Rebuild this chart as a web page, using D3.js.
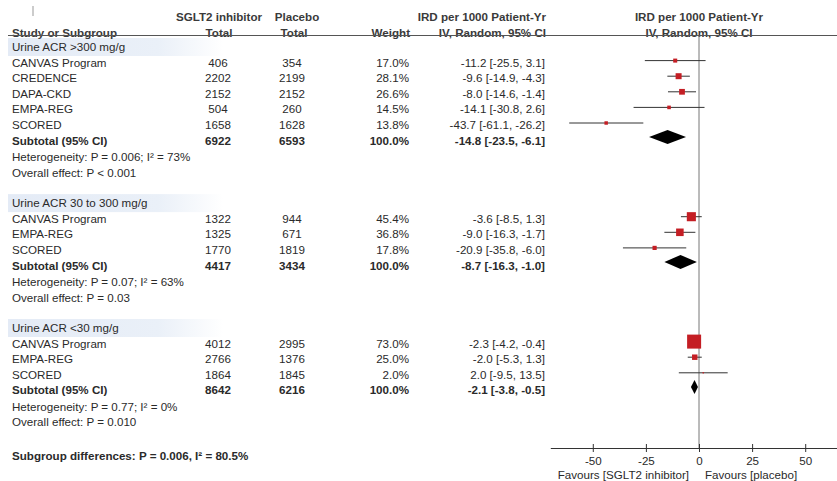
<!DOCTYPE html>
<html>
<head>
<meta charset="utf-8">
<script src="https://cdn.jsdelivr.net/npm/d3@7"></script>
<style>
  body { margin: 0; background: #fff; }
  svg { font-family: "Liberation Sans", Arial, sans-serif; }
</style>
</head>
<body>
<svg id="chart" width="837" height="481"></svg>
<script>
// data
var groups = ['Urine ACR >300 mg/g', 'Urine ACR 30 to 300 mg/g', 'Urine ACR <30 mg/g'];
var studyGroup = [0, 0, 0, 0, 0, 1, 1, 1, 2, 2, 2];
var studyNames = ['CANVAS Program', 'CREDENCE', 'DAPA-CKD', 'EMPA-REG', 'SCORED',
                  'CANVAS Program', 'EMPA-REG', 'SCORED',
                  'CANVAS Program', 'EMPA-REG', 'SCORED'];
var sgltTotal = [406, 2202, 2152, 504, 1658, 1322, 1325, 1770, 4012, 2766, 1864];
var placeboTotal = [354, 2199, 2152, 260, 1628, 944, 671, 1819, 2995, 1376, 1845];
var weights = [17.0, 28.1, 26.6, 14.5, 13.8, 45.4, 36.8, 17.8, 73.0, 25.0, 2.0];
var ird = [-11.2, -9.6, -8.0, -14.1, -43.7, -3.6, -9.0, -20.9, -2.3, -2.0, 2.0];
var lower = [-25.5, -14.9, -14.6, -30.8, -61.1, -8.5, -16.3, -35.8, -4.2, -5.3, -9.5];
var upper = [3.1, -4.3, -1.4, 2.6, -26.2, 1.3, -1.7, -6.0, -0.4, 1.3, 13.5];

var subSglt = [6922, 4417, 8642];
var subPlacebo = [6593, 3434, 6216];
var subIrd = [-14.8, -8.7, -2.1];
var subLower = [-23.5, -16.3, -3.8];
var subUpper = [-6.1, -1.0, -0.5];
var heterogeneity = ['Heterogeneity: P = 0.006; I² = 73%', 'Heterogeneity: P = 0.07; I² = 63%', 'Heterogeneity: P = 0.77; I² = 0%'];
var overallEffect = ['Overall effect: P < 0.001', 'Overall effect: P = 0.03', 'Overall effect: P = 0.010'];
var subgroupDiff = 'Subgroup differences: P = 0.006, I² = 80.5%';
var axisTicks = [-50, -25, 0, 25, 50];

var svg = d3.select('#chart');
var txt = '#2a2a2a';
var fs = 11.6;

var x = d3.scaleLinear().domain([-70, 70]).range([550.3, 847.7]);
var box = d3.scaleLinear().domain([0, 73]).range([1, 14]);
var f1 = function(v){ return v.toFixed(1); };
var ci = function(m, l, u){ return f1(m) + ' [' + f1(l) + ', ' + f1(u) + ']'; };

// row layout
var rowStep = 15.6;
var rows = [];
var y = 47;
var lastY = 0;
groups.forEach(function(g, gi){
    rows.push({type: 'group', y: y, g: gi});
    var k = 0;
    studyGroup.forEach(function(sg, i){
        if (sg == gi){
            k += 1;
            rows.push({type: 'study', y: y + rowStep * k, i: i});
        }
    });
    var ys = y + rowStep * (k + 1);
    rows.push({type: 'sub', y: ys, g: gi});
    rows.push({type: 'het', y: ys + 16.5, g: gi});
    rows.push({type: 'overall', y: ys + 32, g: gi});
    lastY = ys + 32;
    y = ys + 62.5;
});
var diffY = lastY + 34;

// band behind subgroup headings
var defs = svg.append('defs');
var grad = defs.append('linearGradient').attr('id', 'band');
grad.append('stop').attr('offset', '0%').attr('stop-color', '#e4ebf6');
grad.append('stop').attr('offset', '70%').attr('stop-color', '#eaf0f8');
grad.append('stop').attr('offset', '100%').attr('stop-color', '#ffffff');

svg.selectAll('.band')
    .data(rows.filter(function(r){ return r.type == 'group'; }))
    .enter().append('rect')
    .attr('class', 'band')
    .attr('x', 8).attr('width', 215)
    .attr('y', function(d){ return d.y - 9; })
    .attr('height', 18)
    .attr('fill', 'url(#band)');

// header
var head = svg.append('g').attr('font-size', fs).attr('font-weight', 'bold').attr('fill', '#3a3a3a');
head.append('text').attr('x', 219).attr('y', 21).attr('text-anchor', 'middle').text('SGLT2 inhibitor');
head.append('text').attr('x', 297).attr('y', 21).attr('text-anchor', 'middle').text('Placebo');
head.append('text').attr('x', 12).attr('y', 37).text('Study or Subgroup');
head.append('text').attr('x', 219).attr('y', 37).attr('text-anchor', 'middle').text('Total');
head.append('text').attr('x', 294).attr('y', 37).attr('text-anchor', 'middle').text('Total');
head.append('text').attr('x', 410).attr('y', 37).attr('text-anchor', 'end').text('Weight');
head.append('text').attr('x', 546).attr('y', 21).attr('text-anchor', 'end').text('IRD per 1000 Patient-Yr');
head.append('text').attr('x', 546).attr('y', 37).attr('text-anchor', 'end').text('IV, Random, 95% CI');
head.append('text').attr('x', x(0)).attr('y', 21).attr('text-anchor', 'middle').text('IRD per 1000 Patient-Yr');
head.append('text').attr('x', x(0)).attr('y', 37).attr('text-anchor', 'middle').text('IV, Random, 95% CI');

svg.append('line').attr('x1', 33).attr('x2', 33).attr('y1', 6).attr('y2', 16)
    .attr('stroke', '#999').attr('stroke-width', 1);
svg.append('line').attr('x1', 8).attr('x2', 837).attr('y1', 35.5).attr('y2', 35.5)
    .attr('stroke', '#555').attr('stroke-width', 1.2);

// zero line
svg.append('line').attr('x1', x(0)).attr('x2', x(0)).attr('y1', 36).attr('y2', 448)
    .attr('stroke', '#777').attr('stroke-width', 1);

// table text
var tbl = svg.append('g').attr('font-size', fs).attr('fill', txt);
rows.forEach(function(r){
    var ty = r.y + 4;
    if (r.type == 'group'){
        tbl.append('text').attr('x', 12).attr('y', ty).text(groups[r.g]);
    } else if (r.type == 'study'){
        var i = r.i;
        tbl.append('text').attr('x', 12).attr('y', ty).text(studyNames[i]);
        tbl.append('text').attr('x', 218).attr('y', ty).attr('text-anchor', 'middle').text(sgltTotal[i]);
        tbl.append('text').attr('x', 292).attr('y', ty).attr('text-anchor', 'middle').text(placeboTotal[i]);
        tbl.append('text').attr('x', 409).attr('y', ty).attr('text-anchor', 'end').text(f1(weights[i]) + '%');
        tbl.append('text').attr('x', 545).attr('y', ty).attr('text-anchor', 'end').text(ci(ird[i], lower[i], upper[i]));
    } else if (r.type == 'sub'){
        var g = r.g;
        var b = tbl.append('g').attr('font-weight', 'bold');
        b.append('text').attr('x', 12).attr('y', ty).text('Subtotal (95% CI)');
        b.append('text').attr('x', 218).attr('y', ty).attr('text-anchor', 'middle').text(subSglt[g]);
        b.append('text').attr('x', 292).attr('y', ty).attr('text-anchor', 'middle').text(subPlacebo[g]);
        b.append('text').attr('x', 409).attr('y', ty).attr('text-anchor', 'end').text('100.0%');
        b.append('text').attr('x', 545).attr('y', ty).attr('text-anchor', 'end').text(ci(subIrd[g], subLower[g], subUpper[g]));
    } else if (r.type == 'het'){
        tbl.append('text').attr('x', 12).attr('y', ty).text(heterogeneity[r.g]);
    } else {
        tbl.append('text').attr('x', 12).attr('y', ty).text(overallEffect[r.g]);
    }
});
tbl.append('text').attr('x', 12).attr('y', diffY + 4).attr('font-weight', 'bold').text(subgroupDiff);

// forest marks
var plot = svg.append('g');
var studyRows = rows.filter(function(r){ return r.type == 'study'; });
plot.selectAll('.ci')
    .data(studyRows)
    .enter().append('line')
    .attr('class', 'ci')
    .attr('x1', function(d){ return x(lower[d.i]); })
    .attr('x2', function(d){ return x(upper[d.i]); })
    .attr('y1', function(d){ return d.y - 2; })
    .attr('y2', function(d){ return d.y - 2; })
    .attr('stroke', '#333').attr('stroke-width', 1);
plot.selectAll('.box')
    .data(studyRows)
    .enter().append('rect')
    .attr('class', 'box')
    .attr('x', function(d){ return x(ird[d.i]) - box(weights[d.i]) / 2; })
    .attr('y', function(d){ return d.y - 2 - box(weights[d.i]) / 2; })
    .attr('width', function(d){ return box(weights[d.i]); })
    .attr('height', function(d){ return box(weights[d.i]); })
    .attr('fill', '#c41e24');

var subRows = rows.filter(function(r){ return r.type == 'sub'; });
plot.selectAll('.diamond')
    .data(subRows)
    .enter().append('path')
    .attr('class', 'diamond')
    .attr('d', function(d){
        var cy = d.y - 3.5, g = d.g, h = 7;
        return 'M' + x(subLower[g]) + ',' + cy +
            'L' + x(subIrd[g]) + ',' + (cy - h) +
            'L' + x(subUpper[g]) + ',' + cy +
            'L' + x(subIrd[g]) + ',' + (cy + h) + 'Z';
    })
    .attr('fill', '#000');

// axis
var axisY = 448;
var ax = svg.append('g')
    .attr('transform', 'translate(0,' + axisY + ')')
    .call(d3.axisBottom(x).tickValues(axisTicks).tickSize(4).tickSizeOuter(0).tickFormat(function(d){ return d; }));
ax.select('.domain').attr('stroke', '#333');
ax.selectAll('.tick line').attr('y1', -4).attr('y2', 4).attr('stroke', '#333');
ax.selectAll('.tick text').attr('y', 9).attr('font-size', fs)
    .attr('font-family', '"Liberation Sans", Arial, sans-serif').attr('fill', txt);

svg.append('text').attr('x', x(0) - 10).attr('y', 479).attr('text-anchor', 'end')
    .attr('font-size', fs).attr('fill', txt).text('Favours [SGLT2 inhibitor]');
svg.append('text').attr('x', x(0) + 6).attr('y', 479)
    .attr('font-size', fs).attr('fill', txt).text('Favours [placebo]');
</script>
</body>
</html>
